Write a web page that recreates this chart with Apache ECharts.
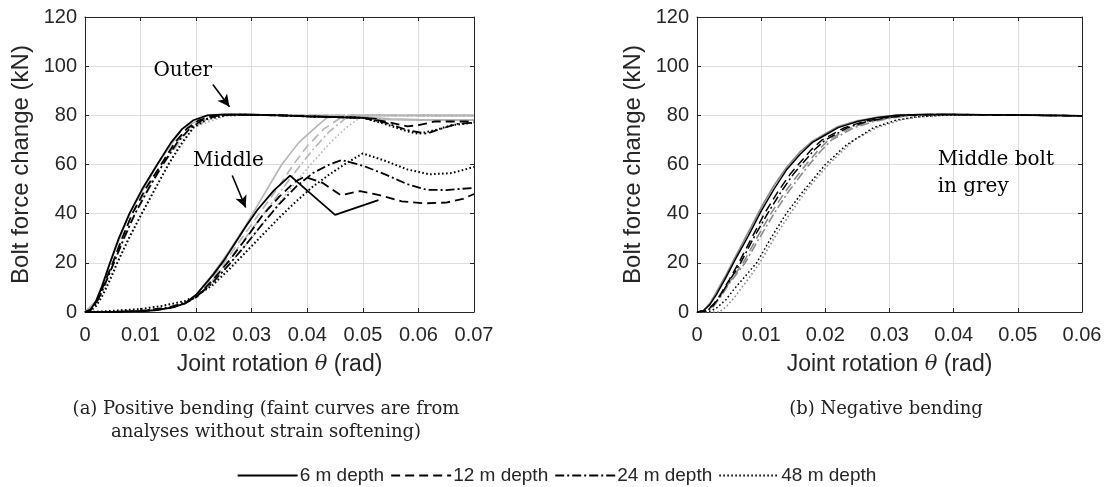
<!DOCTYPE html>
<html><head><meta charset="utf-8">
<script src="https://cdn.jsdelivr.net/npm/echarts@6/dist/echarts.min.js"></script>
<style>html,body{margin:0;padding:0;background:#fff}#c{width:1113px;height:487px}</style>
</head><body><div id="c"></div><script>
// ---------- DATA ----------
const depths = ['6 m depth', '12 m depth', '24 m depth', '48 m depth'];
const xTickStep = 0.01;
const yTickStep = 20;
const xMaxPos = 0.07, xMaxNeg = 0.06, yMax = 120;

// (a) Positive bending — outer bolt, with strain softening (black)
const posOuter6 = [[0,0],[0.001,1],[0.002,4.5],[0.003,10],[0.0045,20],[0.006,29.5],[0.008,40],[0.0103,50],[0.013,60],[0.0155,69],[0.0175,74.5],[0.0195,78],[0.022,80],[0.025,80.4],[0.03,80.3],[0.035,80],[0.04,79.6],[0.045,79.3],[0.05,79],[0.0525,78.6]];
const posOuter12 = [[0,0],[0.001,0.8],[0.002,4],[0.003,9],[0.005,20],[0.0065,29],[0.0085,40],[0.011,50.5],[0.0137,60],[0.0162,69],[0.0183,74.5],[0.0205,78],[0.0235,80],[0.027,80.3],[0.03,80.2],[0.035,80],[0.04,79.6],[0.045,79.3],[0.05,79],[0.054,77.5],[0.058,75.5],[0.06,76],[0.063,77.5],[0.07,77.5]];
const posOuter24 = [[0,0],[0.001,0.7],[0.002,3.5],[0.003,8],[0.0052,20],[0.007,30],[0.009,40],[0.0115,50.5],[0.014,60],[0.0166,69],[0.0188,74.5],[0.021,78],[0.024,80],[0.027,80.3],[0.03,80.2],[0.035,80],[0.04,79.6],[0.045,79.3],[0.05,79],[0.054,77],[0.058,74],[0.0615,72.5],[0.064,74.5],[0.067,76.5],[0.07,77]];
const posOuter48 = [[0,0],[0.001,0.5],[0.002,2.5],[0.003,6],[0.0045,13],[0.0058,20],[0.008,30.5],[0.0102,40],[0.0126,50],[0.015,60],[0.0172,68],[0.0195,75],[0.022,78.5],[0.0255,80],[0.03,80.2],[0.035,80],[0.04,79.6],[0.045,79.3],[0.05,79],[0.054,76.5],[0.058,73.5],[0.06,72.5],[0.063,74],[0.066,76],[0.07,77]];

// (a) outer bolt, without strain softening (faint grey)
const posOuterNS6 = [[0,0],[0.002,4.5],[0.0045,20],[0.008,40],[0.013,60],[0.0175,74.5],[0.022,80],[0.03,80.3],[0.04,79.8],[0.05,79.3],[0.055,78.6],[0.06,78.3],[0.07,78.2]];
const posOuterNS12 = [[0,0],[0.002,4],[0.005,20],[0.0085,40],[0.0137,60],[0.0183,74.5],[0.0235,80],[0.03,80.3],[0.04,80],[0.05,80],[0.06,80],[0.07,80]];
const posOuterNS24 = [[0,0],[0.002,3.5],[0.0052,20],[0.009,40],[0.014,60],[0.0188,74.5],[0.024,80],[0.03,80.3],[0.04,80],[0.05,80],[0.06,79.9],[0.07,79.9]];
const posOuterNS48 = [[0,0],[0.002,2.5],[0.0058,20],[0.0102,40],[0.015,60],[0.0195,75],[0.0255,80],[0.03,80.2],[0.04,80],[0.05,80],[0.06,79.8],[0.07,79.8]];

// (a) middle bolt, with strain softening (black)
const posMiddle6 = [[0,0],[0.005,0],[0.01,0.3],[0.013,0.8],[0.016,2],[0.018,3.5],[0.02,7],[0.023,15],[0.025,21],[0.027,28],[0.029,35],[0.031,41.5],[0.034,49.5],[0.0369,55.5],[0.045,39.5],[0.0528,45.5]];
const posMiddle12 = [[0,0],[0.005,0],[0.01,0.3],[0.015,1.5],[0.018,3.5],[0.02,6],[0.023,13],[0.026,21],[0.029,30],[0.032,39.5],[0.035,47],[0.0378,53],[0.0395,55],[0.0428,52.5],[0.046,47.5],[0.0495,49.2],[0.053,47.5],[0.057,45],[0.061,44.2],[0.065,44.5],[0.068,46],[0.07,48]];
const posMiddle24 = [[0,0],[0.005,0],[0.01,0.4],[0.015,1.8],[0.018,3.8],[0.02,6],[0.023,12],[0.026,19.5],[0.029,27.5],[0.032,36],[0.035,44],[0.038,51],[0.041,56.5],[0.044,60],[0.0462,61.8],[0.05,59.5],[0.054,56],[0.058,52],[0.0615,49.7],[0.065,49.6],[0.07,50.5]];
const posMiddle48 = [[0,0],[0.003,0.2],[0.006,0.6],[0.01,1.2],[0.014,2.5],[0.018,4.5],[0.02,6.5],[0.023,11],[0.026,17.5],[0.029,24.5],[0.032,31.5],[0.035,38.5],[0.038,45],[0.041,51],[0.044,56],[0.047,60.5],[0.05,64.5],[0.054,61.5],[0.058,58],[0.062,56],[0.066,56.5],[0.07,59]];

// (a) middle bolt, without strain softening (faint grey)
const posMiddleNS6 = [[0,0],[0.005,0],[0.01,0.3],[0.015,1.5],[0.018,3.5],[0.02,7],[0.023,15.5],[0.026,25],[0.029,35.5],[0.032,47],[0.0354,60],[0.0385,69],[0.0417,75.5],[0.0435,79],[0.046,79.5],[0.05,79],[0.055,78.2],[0.06,78],[0.07,78]];
const posMiddleNS12 = [[0,0],[0.005,0],[0.01,0.3],[0.015,1.5],[0.018,3.5],[0.02,6.5],[0.023,14],[0.026,23],[0.029,32.5],[0.032,42],[0.035,51.5],[0.0375,60],[0.04,67.5],[0.043,74.5],[0.046,79],[0.048,80],[0.055,80],[0.07,80]];
const posMiddleNS24 = [[0,0],[0.005,0],[0.01,0.4],[0.015,1.8],[0.018,3.8],[0.02,6],[0.023,13],[0.026,21.5],[0.029,30.5],[0.032,39.5],[0.035,48.5],[0.038,57.5],[0.041,66],[0.044,73.5],[0.047,79],[0.049,80],[0.07,80]];
const posMiddleNS48 = [[0,0],[0.003,0.2],[0.006,0.6],[0.01,1.2],[0.014,2.5],[0.018,4.5],[0.02,6],[0.023,12],[0.026,19.5],[0.029,27.5],[0.032,36],[0.035,44.5],[0.038,53],[0.041,61],[0.044,68.5],[0.047,75],[0.0495,79],[0.051,80],[0.07,80]];

// (b) Negative bending — outer bolt (black)
const negOuter6 = [[0,0],[0.001,0.5],[0.002,3],[0.003,7],[0.0045,14],[0.006,21.5],[0.008,31],[0.01,41],[0.012,50],[0.014,58],[0.016,64],[0.018,69],[0.02,72],[0.022,75],[0.025,77.5],[0.028,79],[0.031,80],[0.035,80.3],[0.04,80.3],[0.05,80.1],[0.06,79.8]];
const negOuter12 = [[0,0],[0.0015,0.5],[0.0025,3],[0.0035,6.5],[0.005,13],[0.0065,20],[0.0085,30],[0.0105,40],[0.0125,48.5],[0.0145,56],[0.0158,60],[0.0178,66],[0.0195,70],[0.023,75],[0.026,77.5],[0.029,79],[0.032,80],[0.036,80.3],[0.04,80.3],[0.05,80.1],[0.06,79.8]];
const negOuter24 = [[0,0],[0.0015,0.4],[0.0025,2.5],[0.0035,6],[0.005,12.5],[0.0068,20],[0.0088,30],[0.011,40],[0.013,48.5],[0.015,56],[0.0163,60],[0.0183,66],[0.02,70],[0.0235,75],[0.0265,77.5],[0.0295,79],[0.033,80],[0.037,80.3],[0.04,80.3],[0.05,80.1],[0.06,79.8]];
const negOuter48 = [[0,0],[0.002,0.3],[0.003,1.5],[0.0045,5],[0.006,10],[0.0075,14.5],[0.0093,20],[0.0115,30],[0.0139,40],[0.0165,49],[0.02,60],[0.0233,68],[0.0275,75],[0.031,78],[0.034,79.3],[0.038,80],[0.042,80.3],[0.05,80.1],[0.06,79.8]];

// (b) middle bolt (grey)
const negMiddle6 = [[0,0],[0.001,0.6],[0.002,3.5],[0.003,8],[0.0045,15],[0.006,22.5],[0.008,32.5],[0.01,42.5],[0.012,51.5],[0.014,59],[0.016,65],[0.018,69.5],[0.02,72.5],[0.022,75.5],[0.025,77.8],[0.028,79.2],[0.031,80],[0.035,80.3],[0.04,80.3],[0.05,80.1],[0.06,79.8]];
const negMiddle12 = [[0,0],[0.0015,0.4],[0.0025,2.5],[0.0035,6],[0.005,12],[0.0072,20],[0.0093,30],[0.0115,40],[0.0135,48],[0.0155,55],[0.017,60],[0.0188,65.5],[0.0205,70],[0.024,75],[0.027,77.5],[0.03,79],[0.033,80],[0.037,80.3],[0.04,80.3],[0.05,80.1],[0.06,79.8]];
const negMiddle24 = [[0,0],[0.0015,0.3],[0.0025,2],[0.0035,5.5],[0.005,11.5],[0.0075,20],[0.0097,30],[0.012,40],[0.014,48],[0.016,55],[0.0175,60],[0.0193,65.5],[0.021,70],[0.0245,75],[0.0275,77.5],[0.0305,79],[0.034,80],[0.038,80.3],[0.042,80.3],[0.05,80.1],[0.06,79.8]];
const negMiddle48 = [[0,0],[0.0035,0],[0.0045,2],[0.006,6.5],[0.008,13.5],[0.0098,20],[0.012,30],[0.0145,40],[0.0172,50],[0.0205,60],[0.0245,70],[0.028,75],[0.032,78.3],[0.035,79.5],[0.038,80],[0.042,80.3],[0.05,80.1],[0.06,79.8]];

// annotation anchors (data coordinates)
const outerLabelAt = [0.0176, 98];
const outerArrow = [[0.0230, 92.5], [0.0260, 83.5]];
const middleLabelAt = [0.0258, 61.5];
const middleArrow = [[0.0265, 55.5], [0.0289, 42.5]];
const greyNoteAt = [0.0375, 61.8];
const greyNote2At = [0.0375, 50.8];

// ---------- STYLE ----------
const AX = '#262626';
const dashes = ['solid', [9, 5], [9, 3, 2, 3], [1.6, 2.4]];
const widths = [1.8, 1.8, 1.8, 2.0];
const faint = '#b5b5b5';
const midGrey = '#8a8a8a';
const sans = 'Liberation Sans';

function line(name, data, xi, color, k, w, z) {
  return {
    type: 'line', name, data, xAxisIndex: xi, yAxisIndex: xi,
    symbol: 'none', showSymbol: false, smooth: false, z: z || 2, silent: true,
    lineStyle: { color, width: w || widths[k], type: dashes[k] },
    itemStyle: { color }
  };
}

function xAx(gi, max, pos) {
  const main = pos === 'bottom';
  return {
    type: 'value', gridIndex: gi, min: 0, max, interval: xTickStep, position: pos,
    axisLine: { show: true, onZero: false, lineStyle: { color: AX, width: 1 } },
    axisTick: { show: true, inside: true, length: 4, lineStyle: { color: AX } },
    axisLabel: { show: main, color: AX, fontFamily: sans, fontSize: 20, margin: 13,
      formatter: v => v === 0 ? '0' : v.toFixed(2) },
    splitLine: { show: main, lineStyle: { color: '#dedede', width: 1 } },
    name: main ? 'Joint rotation {i|θ} (rad)' : '', nameLocation: 'middle', nameGap: 41,
    nameTextStyle: { color: AX, fontFamily: sans, fontSize: 23,
      rich: { i: { fontFamily: 'DejaVu Serif', fontStyle: 'italic', fontSize: 21, color: AX } } }
  };
}
function yAx(gi, pos) {
  const main = pos === 'left';
  return {
    type: 'value', gridIndex: gi, min: 0, max: yMax, interval: yTickStep, position: pos,
    axisLine: { show: true, onZero: false, lineStyle: { color: AX, width: 1 } },
    axisTick: { show: true, inside: true, length: 4, lineStyle: { color: AX } },
    axisLabel: { show: main, color: AX, fontFamily: sans, fontSize: 20, margin: 8 },
    splitLine: { show: main, lineStyle: { color: '#dedede', width: 1 } },
    name: main ? 'Bolt force change (kN)' : '', nameLocation: 'middle', nameGap: 52,
    nameTextStyle: { color: AX, fontFamily: sans, fontSize: 24 }
  };
}

const posOuter = [posOuter6, posOuter12, posOuter24, posOuter48];
const posOuterNS = [posOuterNS6, posOuterNS12, posOuterNS24, posOuterNS48];
const posMiddle = [posMiddle6, posMiddle12, posMiddle24, posMiddle48];
const posMiddleNS = [posMiddleNS6, posMiddleNS12, posMiddleNS24, posMiddleNS48];
const negOuter = [negOuter6, negOuter12, negOuter24, negOuter48];
const negMiddle = [negMiddle6, negMiddle12, negMiddle24, negMiddle48];

const series = [];
for (let k = 0; k < 4; k++) series.push(line('ns-outer-' + k, posOuterNS[k], 0, faint, k, 1.6, 1));
for (let k = 0; k < 4; k++) series.push(line('ns-middle-' + k, posMiddleNS[k], 0, faint, k, 1.6, 1));
for (let k = 0; k < 4; k++) series.push(line('middle-' + k, posMiddle[k], 0, '#000', k, null, 3));
for (let k = 0; k < 4; k++) series.push(line(depths[k], posOuter[k], 0, '#000', k, null, 3));
for (let k = 0; k < 4; k++) series.push(line('neg-middle-' + k, negMiddle[k], 1, midGrey, k, 1.6, 2));
for (let k = 0; k < 4; k++) series.push(line('neg-outer-' + k, negOuter[k], 1, '#000', k, 1.5, 3));

// arrows via markLine on an empty helper series in the left grid
series.push({
  type: 'line', name: 'arrows', data: [], xAxisIndex: 0, yAxisIndex: 0, symbol: 'none', silent: true,
  markLine: {
    silent: true, symbol: ['none', 'arrow'], symbolSize: [9, 12], animation: false,
    label: { show: false },
    lineStyle: { color: '#000', width: 1.6, type: 'solid' },
    data: [
      [{ coord: outerArrow[0] }, { coord: outerArrow[1] }],
      [{ coord: middleArrow[0] }, { coord: middleArrow[1] }]
    ]
  }
});

const chart = echarts.init(document.getElementById('c'), null, { renderer: 'canvas' });
const option = {
  animation: false,
  backgroundColor: '#fff',
  grid: [
    { left: 85, top: 17, width: 389, height: 295, containLabel: false, show: false },
    { left: 697, top: 17, width: 385, height: 295, containLabel: false, show: false }
  ],
  xAxis: [xAx(0, xMaxPos, 'bottom'), xAx(1, xMaxNeg, 'bottom'), xAx(0, xMaxPos, 'top'), xAx(1, xMaxNeg, 'top')],
  yAxis: [yAx(0, 'left'), yAx(1, 'left'), yAx(0, 'right'), yAx(1, 'right')],
  legend: {
    data: depths, left: 'center', top: 461, itemWidth: 60, itemHeight: 14, itemGap: 6,
    selectedMode: false,
    itemStyle: { opacity: 0 },
    lineStyle: { width: 2 },
    textStyle: { fontFamily: sans, fontSize: 19, color: AX, padding: [0, 0, 0, -3] }
  },
  series
};
chart.setOption(option);

const p = (gi, c) => chart.convertToPixel({ gridIndex: gi }, c);
const serif = 'DejaVu Serif';
const o = p(0, outerLabelAt), m = p(0, middleLabelAt), g1 = p(1, greyNoteAt), g2 = p(1, greyNote2At);
chart.setOption({
  graphic: [
    { type: 'text', x: o[0], y: o[1], style: { text: 'Outer', font: '20px "' + serif + '"', fill: '#000', textAlign: 'center', textVerticalAlign: 'middle' } },
    { type: 'text', x: m[0], y: m[1], style: { text: 'Middle', font: '20px "' + serif + '"', fill: '#000', textAlign: 'center', textVerticalAlign: 'middle' } },
    { type: 'text', x: g1[0], y: g1[1], style: { text: 'Middle bolt', font: '20px "' + serif + '"', fill: '#000', textAlign: 'left', textVerticalAlign: 'middle' } },
    { type: 'text', x: g2[0], y: g2[1], style: { text: 'in grey', font: '20px "' + serif + '"', fill: '#000', textAlign: 'left', textVerticalAlign: 'middle' } },
    { type: 'text', x: 266, y: 398, style: { text: '(a) Positive bending (faint curves are from\nanalyses without strain softening)', font: '18px "' + serif + '"', fill: '#222', textAlign: 'center', lineHeight: 23 } },
    { type: 'text', x: 886, y: 398, style: { text: '(b) Negative bending', font: '18px "' + serif + '"', fill: '#222', textAlign: 'center', lineHeight: 23 } }
  ]
});
</script></body></html>
